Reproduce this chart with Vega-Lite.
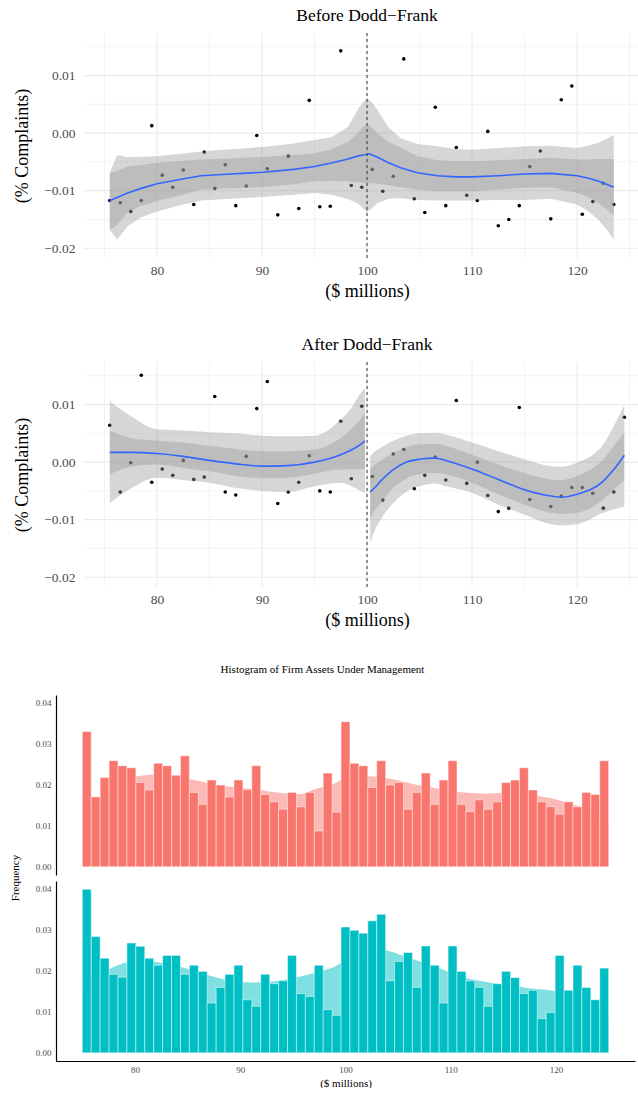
{
"$schema": "https://vega.github.io/schema/vega-lite/v6.json",
"padding": {"left": 9, "top": 6, "right": 0, "bottom": 0},
"background": "white",
"spacing": 34,
"config": {"view": {"stroke": null}, "font": "Liberation Serif",
  "title": {"fontWeight": "normal", "color": "black", "font": "Liberation Serif"},
  "axis": {"labelFont": "Liberation Serif", "titleFont": "Liberation Serif", "titleFontWeight": "normal", "titleColor": "black", "labelColor": "#4D4D4D"},
  "header": {"titleFont": "Liberation Serif", "labelFont": "Liberation Serif"}},
"datasets": {
  "vminor": [{"v":75},{"v":85},{"v":95},{"v":105},{"v":115},{"v":125}],
  "vmajor": [{"v":80},{"v":90},{"v":100},{"v":110},{"v":120}],
  "hminor": [{"g":-0.015},{"g":-0.005},{"g":0.005},{"g":0.015}],
  "hmajor": [{"g":-0.02},{"g":-0.01},{"g":0},{"g":0.01}],
  "before_pts": [
    {"x":75.5,"y":-0.0117},{"x":76.5,"y":-0.0121},{"x":77.5,"y":-0.0136},{"x":78.5,"y":-0.0117},{"x":79.5,"y":0.0013},
    {"x":80.5,"y":-0.0073},{"x":81.5,"y":-0.0094},{"x":82.5,"y":-0.0064},{"x":83.5,"y":-0.0124},{"x":84.5,"y":-0.0033},
    {"x":85.5,"y":-0.0096},{"x":86.5,"y":-0.0055},{"x":87.5,"y":-0.0126},{"x":88.5,"y":-0.0092},{"x":89.5,"y":-0.0004},
    {"x":90.5,"y":-0.0062},{"x":91.5,"y":-0.0142},{"x":92.5,"y":-0.004},{"x":93.5,"y":-0.0131},{"x":94.5,"y":0.0057},
    {"x":95.5,"y":-0.0128},{"x":96.5,"y":-0.0127},{"x":97.5,"y":0.0143},{"x":98.5,"y":-0.0091},{"x":99.5,"y":-0.0094},
    {"x":100.5,"y":-0.0063},{"x":101.5,"y":-0.0101},{"x":102.5,"y":-0.0075},{"x":103.5,"y":0.0129},{"x":104.5,"y":-0.0114},
    {"x":105.5,"y":-0.0138},{"x":106.5,"y":0.0045},{"x":107.5,"y":-0.0126},{"x":108.5,"y":-0.0025},{"x":109.5,"y":-0.0108},
    {"x":110.5,"y":-0.0117},{"x":111.5,"y":0.0003},{"x":112.5,"y":-0.0161},{"x":113.5,"y":-0.015},{"x":114.5,"y":-0.0126},
    {"x":115.5,"y":-0.0058},{"x":116.5,"y":-0.0031},{"x":117.5,"y":-0.0149},{"x":118.5,"y":0.0058},{"x":119.5,"y":0.0082},
    {"x":120.5,"y":-0.0141},{"x":121.5,"y":-0.0119},{"x":122.5,"y":-0.0087},{"x":123.5,"y":-0.0124}],
  "before_fit": [
    {"x":75.5,"fit":-0.0117,"in_lo":-0.0168,"in_hi":-0.0069,"out_lo":-0.0168,"out_hi":-0.0069},
    {"x":76.2,"fit":-0.0112,"in_lo":-0.016,"in_hi":-0.0066,"out_lo":-0.0185,"out_hi":-0.0038},
    {"x":77.2,"fit":-0.0104,"in_lo":-0.0138,"in_hi":-0.0058,"out_lo":-0.0162,"out_hi":-0.0042},
    {"x":78.5,"fit":-0.0096,"in_lo":-0.0126,"in_hi":-0.0055,"out_lo":-0.0146,"out_hi":-0.0041},
    {"x":80,"fit":-0.0088,"in_lo":-0.0118,"in_hi":-0.0052,"out_lo":-0.0136,"out_hi":-0.004},
    {"x":82.3,"fit":-0.008,"in_lo":-0.0108,"in_hi":-0.0048,"out_lo":-0.0125,"out_hi":-0.0036},
    {"x":84.2,"fit":-0.0074,"in_lo":-0.0098,"in_hi":-0.0046,"out_lo":-0.0117,"out_hi":-0.0032},
    {"x":87,"fit":-0.0071,"in_lo":-0.0096,"in_hi":-0.0044,"out_lo":-0.0114,"out_hi":-0.0028},
    {"x":90.1,"fit":-0.0068,"in_lo":-0.0094,"in_hi":-0.0041,"out_lo":-0.0111,"out_hi":-0.0024},
    {"x":93,"fit":-0.0063,"in_lo":-0.0089,"in_hi":-0.0038,"out_lo":-0.0107,"out_hi":-0.0018},
    {"x":95,"fit":-0.0058,"in_lo":-0.0084,"in_hi":-0.0035,"out_lo":-0.0104,"out_hi":-0.0012},
    {"x":96.6,"fit":-0.0052,"in_lo":-0.0083,"in_hi":-0.0028,"out_lo":-0.0107,"out_hi":-0.0007},
    {"x":98.2,"fit":-0.0045,"in_lo":-0.0084,"in_hi":-0.0015,"out_lo":-0.0115,"out_hi":0.0011},
    {"x":99.1,"fit":-0.004,"in_lo":-0.0085,"in_hi":0.0,"out_lo":-0.0122,"out_hi":0.004},
    {"x":99.6,"fit":-0.0038,"in_lo":-0.0086,"in_hi":0.001,"out_lo":-0.013,"out_hi":0.0053},
    {"x":100,"fit":-0.0037,"in_lo":-0.0087,"in_hi":0.0016,"out_lo":-0.0138,"out_hi":0.0061},
    {"x":100.2,"fit":-0.0036,"in_lo":-0.0087,"in_hi":0.0013,"out_lo":-0.0134,"out_hi":0.0058},
    {"x":100.5,"fit":-0.0038,"in_lo":-0.0087,"in_hi":0.0009,"out_lo":-0.013,"out_hi":0.0053},
    {"x":101,"fit":-0.0042,"in_lo":-0.0088,"in_hi":0.0,"out_lo":-0.0122,"out_hi":0.004},
    {"x":102,"fit":-0.0051,"in_lo":-0.009,"in_hi":-0.0015,"out_lo":-0.0114,"out_hi":0.0011},
    {"x":103.2,"fit":-0.006,"in_lo":-0.0094,"in_hi":-0.0025,"out_lo":-0.0113,"out_hi":-0.0009},
    {"x":104.8,"fit":-0.0069,"in_lo":-0.0098,"in_hi":-0.004,"out_lo":-0.0116,"out_hi":-0.0019},
    {"x":106.7,"fit":-0.0074,"in_lo":-0.0101,"in_hi":-0.0047,"out_lo":-0.0117,"out_hi":-0.0023},
    {"x":108.5,"fit":-0.0076,"in_lo":-0.0101,"in_hi":-0.0049,"out_lo":-0.0117,"out_hi":-0.0028},
    {"x":110,"fit":-0.0076,"in_lo":-0.0101,"in_hi":-0.0049,"out_lo":-0.0117,"out_hi":-0.0029},
    {"x":112.5,"fit":-0.0074,"in_lo":-0.0098,"in_hi":-0.0047,"out_lo":-0.0116,"out_hi":-0.0026},
    {"x":115,"fit":-0.0071,"in_lo":-0.0095,"in_hi":-0.0045,"out_lo":-0.0116,"out_hi":-0.0023},
    {"x":117.5,"fit":-0.007,"in_lo":-0.0094,"in_hi":-0.0043,"out_lo":-0.0114,"out_hi":-0.0022},
    {"x":120,"fit":-0.0074,"in_lo":-0.0104,"in_hi":-0.0046,"out_lo":-0.0124,"out_hi":-0.0026},
    {"x":121,"fit":-0.0078,"in_lo":-0.0111,"in_hi":-0.0046,"out_lo":-0.0135,"out_hi":-0.0022},
    {"x":122,"fit":-0.0083,"in_lo":-0.0121,"in_hi":-0.0045,"out_lo":-0.015,"out_hi":-0.0017},
    {"x":122.8,"fit":-0.0089,"in_lo":-0.0132,"in_hi":-0.0045,"out_lo":-0.0167,"out_hi":-0.001},
    {"x":123.5,"fit":-0.0094,"in_lo":-0.0143,"in_hi":-0.0045,"out_lo":-0.0185,"out_hi":-0.0003}],
  "after_pts": [
    {"x":75.5,"y":0.0064},{"x":76.5,"y":-0.0052},{"x":77.5,"y":-0.0001},{"x":78.5,"y":0.0151},{"x":79.5,"y":-0.0035},
    {"x":80.5,"y":-0.0012},{"x":81.5,"y":-0.0023},{"x":82.5,"y":0.0003},{"x":83.5,"y":-0.003},{"x":84.5,"y":-0.0026},
    {"x":85.5,"y":0.0114},{"x":86.5,"y":-0.0052},{"x":87.5,"y":-0.0057},{"x":88.5,"y":0.001},{"x":89.5,"y":0.0093},
    {"x":90.5,"y":0.014},{"x":91.5,"y":-0.0072},{"x":92.5,"y":-0.0052},{"x":93.5,"y":-0.0035},{"x":94.5,"y":0.0011},
    {"x":95.5,"y":-0.005},{"x":96.5,"y":-0.0052},{"x":97.5,"y":0.0071},{"x":98.5,"y":-0.0029},{"x":99.5,"y":0.0097},
    {"x":100.5,"y":-0.0025},{"x":101.5,"y":-0.0066},{"x":102.5,"y":0.0014},{"x":103.5,"y":0.0022},{"x":104.5,"y":-0.0046},
    {"x":105.5,"y":-0.0023},{"x":106.5,"y":0.0009},{"x":107.5,"y":-0.0031},{"x":108.5,"y":0.0107},{"x":109.5,"y":-0.0037},
    {"x":110.5,"y":0.0},{"x":111.5,"y":-0.0058},{"x":112.5,"y":-0.0086},{"x":113.5,"y":-0.008},{"x":114.5,"y":0.0095},
    {"x":115.5,"y":-0.0065},{"x":117.5,"y":-0.0077},{"x":118.5,"y":-0.0059},{"x":119.5,"y":-0.0044},{"x":120.5,"y":-0.0044},
    {"x":121.5,"y":-0.0054},{"x":122.5,"y":-0.008},{"x":123.5,"y":-0.0052},{"x":124.5,"y":0.0078}],
  "after_fit": [
    {"seg":"pre","x":75.5,"fit":0.0017,"in_lo":-0.0021,"in_hi":0.0054,"out_lo":-0.0071,"out_hi":0.0106},
    {"seg":"pre","x":77.5,"fit":0.0017,"in_lo":-0.0008,"in_hi":0.0042,"out_lo":-0.0046,"out_hi":0.008},
    {"seg":"pre","x":80,"fit":0.0015,"in_lo":-0.0004,"in_hi":0.0037,"out_lo":-0.0027,"out_hi":0.0057},
    {"seg":"pre","x":82.5,"fit":0.001,"in_lo":-0.001,"in_hi":0.0034,"out_lo":-0.0031,"out_hi":0.0055},
    {"seg":"pre","x":85,"fit":0.0003,"in_lo":-0.0016,"in_hi":0.0028,"out_lo":-0.0036,"out_hi":0.0052},
    {"seg":"pre","x":87.5,"fit":-0.0003,"in_lo":-0.0024,"in_hi":0.0023,"out_lo":-0.0045,"out_hi":0.005},
    {"seg":"pre","x":90,"fit":-0.0007,"in_lo":-0.0028,"in_hi":0.0019,"out_lo":-0.005,"out_hi":0.0046},
    {"seg":"pre","x":92.5,"fit":-0.0006,"in_lo":-0.0027,"in_hi":0.0019,"out_lo":-0.0052,"out_hi":0.0045},
    {"seg":"pre","x":95,"fit":0.0,"in_lo":-0.002,"in_hi":0.0022,"out_lo":-0.0042,"out_hi":0.0046},
    {"seg":"pre","x":97.5,"fit":0.0013,"in_lo":-0.0013,"in_hi":0.0042,"out_lo":-0.0036,"out_hi":0.0074},
    {"seg":"pre","x":98.5,"fit":0.0021,"in_lo":-0.0013,"in_hi":0.0057,"out_lo":-0.0042,"out_hi":0.0094},
    {"seg":"pre","x":99.4,"fit":0.0031,"in_lo":-0.0012,"in_hi":0.0076,"out_lo":-0.005,"out_hi":0.012},
    {"seg":"pre","x":99.8,"fit":0.0037,"in_lo":-0.0013,"in_hi":0.0086,"out_lo":-0.0053,"out_hi":0.0129},
    {"seg":"post","x":100.3,"fit":-0.0052,"in_lo":-0.0097,"in_hi":-0.0012,"out_lo":-0.014,"out_hi":0.001},
    {"seg":"post","x":100.7,"fit":-0.0045,"in_lo":-0.0085,"in_hi":-0.0005,"out_lo":-0.012,"out_hi":0.0018},
    {"seg":"post","x":101.3,"fit":-0.0033,"in_lo":-0.0071,"in_hi":0.0003,"out_lo":-0.01,"out_hi":0.0025},
    {"seg":"post","x":102.5,"fit":-0.0013,"in_lo":-0.0045,"in_hi":0.0016,"out_lo":-0.0071,"out_hi":0.0037},
    {"seg":"post","x":103.6,"fit":-0.0001,"in_lo":-0.003,"in_hi":0.0025,"out_lo":-0.0053,"out_hi":0.0045},
    {"seg":"post","x":105,"fit":0.0005,"in_lo":-0.0021,"in_hi":0.0031,"out_lo":-0.0042,"out_hi":0.005},
    {"seg":"post","x":106.5,"fit":0.0007,"in_lo":-0.0019,"in_hi":0.0032,"out_lo":-0.0037,"out_hi":0.0051},
    {"seg":"post","x":107.5,"fit":0.0003,"in_lo":-0.0021,"in_hi":0.0028,"out_lo":-0.0042,"out_hi":0.0048},
    {"seg":"post","x":110,"fit":-0.0012,"in_lo":-0.0036,"in_hi":0.0013,"out_lo":-0.0053,"out_hi":0.0034},
    {"seg":"post","x":112.5,"fit":-0.003,"in_lo":-0.0056,"in_hi":-0.0004,"out_lo":-0.0074,"out_hi":0.0019},
    {"seg":"post","x":115,"fit":-0.0048,"in_lo":-0.0074,"in_hi":-0.0019,"out_lo":-0.0091,"out_hi":0.0005},
    {"seg":"post","x":117.5,"fit":-0.0059,"in_lo":-0.0088,"in_hi":-0.003,"out_lo":-0.0108,"out_hi":-0.0007},
    {"seg":"post","x":118.5,"fit":-0.0061,"in_lo":-0.009,"in_hi":-0.0031,"out_lo":-0.011,"out_hi":-0.0008},
    {"seg":"post","x":120,"fit":-0.0056,"in_lo":-0.0088,"in_hi":-0.0024,"out_lo":-0.0108,"out_hi":-0.0001},
    {"seg":"post","x":122.5,"fit":-0.0033,"in_lo":-0.0065,"in_hi":0.0005,"out_lo":-0.0088,"out_hi":0.0031},
    {"seg":"post","x":123.5,"fit":-0.0013,"in_lo":-0.0048,"in_hi":0.0028,"out_lo":-0.0082,"out_hi":0.0063},
    {"seg":"post","x":124.5,"fit":0.0012,"in_lo":-0.003,"in_hi":0.0051,"out_lo":-0.0077,"out_hi":0.0099}],
  "hist": [
    {"p":"Before","lo":75,"hi":75.847,"f":0.0329},{"p":"Before","lo":75.847,"hi":76.695,"f":0.017},{"p":"Before","lo":76.695,"hi":77.542,"f":0.0217},{"p":"Before","lo":77.542,"hi":78.39,"f":0.0258},{"p":"Before","lo":78.39,"hi":79.237,"f":0.0246},
    {"p":"Before","lo":79.237,"hi":80.085,"f":0.0241},{"p":"Before","lo":80.085,"hi":80.932,"f":0.0205},{"p":"Before","lo":80.932,"hi":81.78,"f":0.0187},{"p":"Before","lo":81.78,"hi":82.627,"f":0.0252},{"p":"Before","lo":82.627,"hi":83.475,"f":0.0246},
    {"p":"Before","lo":83.475,"hi":84.322,"f":0.0223},{"p":"Before","lo":84.322,"hi":85.169,"f":0.027},{"p":"Before","lo":85.169,"hi":86.017,"f":0.0181},{"p":"Before","lo":86.017,"hi":86.864,"f":0.0152},{"p":"Before","lo":86.864,"hi":87.712,"f":0.0211},
    {"p":"Before","lo":87.712,"hi":88.559,"f":0.0199},{"p":"Before","lo":88.559,"hi":89.407,"f":0.017},{"p":"Before","lo":89.407,"hi":90.254,"f":0.0211},{"p":"Before","lo":90.254,"hi":91.102,"f":0.0188},{"p":"Before","lo":91.102,"hi":91.949,"f":0.0246},
    {"p":"Before","lo":91.949,"hi":92.797,"f":0.0176},{"p":"Before","lo":92.797,"hi":93.644,"f":0.0158},{"p":"Before","lo":93.644,"hi":94.492,"f":0.014},{"p":"Before","lo":94.492,"hi":95.339,"f":0.0181},{"p":"Before","lo":95.339,"hi":96.186,"f":0.0146},
    {"p":"Before","lo":96.186,"hi":97.034,"f":0.0181},{"p":"Before","lo":97.034,"hi":97.881,"f":0.0087},{"p":"Before","lo":97.881,"hi":98.729,"f":0.0228},{"p":"Before","lo":98.729,"hi":99.576,"f":0.0133},{"p":"Before","lo":99.576,"hi":100.424,"f":0.0353},
    {"p":"Before","lo":100.424,"hi":101.271,"f":0.0252},{"p":"Before","lo":101.271,"hi":102.119,"f":0.0246},{"p":"Before","lo":102.119,"hi":102.966,"f":0.0193},{"p":"Before","lo":102.966,"hi":103.814,"f":0.0258},{"p":"Before","lo":103.814,"hi":104.661,"f":0.0199},
    {"p":"Before","lo":104.661,"hi":105.508,"f":0.0205},{"p":"Before","lo":105.508,"hi":106.356,"f":0.014},{"p":"Before","lo":106.356,"hi":107.203,"f":0.0181},{"p":"Before","lo":107.203,"hi":108.051,"f":0.0228},{"p":"Before","lo":108.051,"hi":108.898,"f":0.0152},
    {"p":"Before","lo":108.898,"hi":109.746,"f":0.0211},{"p":"Before","lo":109.746,"hi":110.593,"f":0.0258},{"p":"Before","lo":110.593,"hi":111.441,"f":0.0152},{"p":"Before","lo":111.441,"hi":112.288,"f":0.0134},{"p":"Before","lo":112.288,"hi":113.136,"f":0.0163},
    {"p":"Before","lo":113.136,"hi":113.983,"f":0.014},{"p":"Before","lo":113.983,"hi":114.831,"f":0.0158},{"p":"Before","lo":114.831,"hi":115.678,"f":0.0205},{"p":"Before","lo":115.678,"hi":116.525,"f":0.0211},{"p":"Before","lo":116.525,"hi":117.373,"f":0.0241},
    {"p":"Before","lo":117.373,"hi":118.22,"f":0.0187},{"p":"Before","lo":118.22,"hi":119.068,"f":0.0158},{"p":"Before","lo":119.068,"hi":119.915,"f":0.0146},{"p":"Before","lo":119.915,"hi":120.763,"f":0.0128},{"p":"Before","lo":120.763,"hi":121.61,"f":0.0158},
    {"p":"Before","lo":121.61,"hi":122.458,"f":0.0146},{"p":"Before","lo":122.458,"hi":123.305,"f":0.0181},{"p":"Before","lo":123.305,"hi":124.153,"f":0.0176},{"p":"Before","lo":124.153,"hi":125,"f":0.0258},
    {"p":"After","lo":75,"hi":75.847,"f":0.0398},{"p":"After","lo":75.847,"hi":76.695,"f":0.0283},{"p":"After","lo":76.695,"hi":77.542,"f":0.023},{"p":"After","lo":77.542,"hi":78.39,"f":0.0191},{"p":"After","lo":78.39,"hi":79.237,"f":0.0184},
    {"p":"After","lo":79.237,"hi":80.085,"f":0.0267},{"p":"After","lo":80.085,"hi":80.932,"f":0.0259},{"p":"After","lo":80.932,"hi":81.78,"f":0.023},{"p":"After","lo":81.78,"hi":82.627,"f":0.0213},{"p":"After","lo":82.627,"hi":83.475,"f":0.0237},
    {"p":"After","lo":83.475,"hi":84.322,"f":0.0237},{"p":"After","lo":84.322,"hi":85.169,"f":0.0191},{"p":"After","lo":85.169,"hi":86.017,"f":0.0213},{"p":"After","lo":86.017,"hi":86.864,"f":0.0198},{"p":"After","lo":86.864,"hi":87.712,"f":0.0121},
    {"p":"After","lo":87.712,"hi":88.559,"f":0.0159},{"p":"After","lo":88.559,"hi":89.407,"f":0.0191},{"p":"After","lo":89.407,"hi":90.254,"f":0.0213},{"p":"After","lo":90.254,"hi":91.102,"f":0.0129},{"p":"After","lo":91.102,"hi":91.949,"f":0.0113},
    {"p":"After","lo":91.949,"hi":92.797,"f":0.0191},{"p":"After","lo":92.797,"hi":93.644,"f":0.0168},{"p":"After","lo":93.644,"hi":94.492,"f":0.0175},{"p":"After","lo":94.492,"hi":95.339,"f":0.0237},{"p":"After","lo":95.339,"hi":96.186,"f":0.0144},
    {"p":"After","lo":96.186,"hi":97.034,"f":0.0137},{"p":"After","lo":97.034,"hi":97.881,"f":0.0213},{"p":"After","lo":97.881,"hi":98.729,"f":0.0105},{"p":"After","lo":98.729,"hi":99.576,"f":0.0091},{"p":"After","lo":99.576,"hi":100.424,"f":0.0306},
    {"p":"After","lo":100.424,"hi":101.271,"f":0.0298},{"p":"After","lo":101.271,"hi":102.119,"f":0.0291},{"p":"After","lo":102.119,"hi":102.966,"f":0.0321},{"p":"After","lo":102.966,"hi":103.814,"f":0.0337},{"p":"After","lo":103.814,"hi":104.661,"f":0.0175},
    {"p":"After","lo":104.661,"hi":105.508,"f":0.0222},{"p":"After","lo":105.508,"hi":106.356,"f":0.0244},{"p":"After","lo":106.356,"hi":107.203,"f":0.0159},{"p":"After","lo":107.203,"hi":108.051,"f":0.026},{"p":"After","lo":108.051,"hi":108.898,"f":0.0213},
    {"p":"After","lo":108.898,"hi":109.746,"f":0.0121},{"p":"After","lo":109.746,"hi":110.593,"f":0.026},{"p":"After","lo":110.593,"hi":111.441,"f":0.0198},{"p":"After","lo":111.441,"hi":112.288,"f":0.0175},{"p":"After","lo":112.288,"hi":113.136,"f":0.0159},
    {"p":"After","lo":113.136,"hi":113.983,"f":0.0113},{"p":"After","lo":113.983,"hi":114.831,"f":0.0168},{"p":"After","lo":114.831,"hi":115.678,"f":0.0198},{"p":"After","lo":115.678,"hi":116.525,"f":0.0183},{"p":"After","lo":116.525,"hi":117.373,"f":0.0144},
    {"p":"After","lo":117.373,"hi":118.22,"f":0.0152},{"p":"After","lo":118.22,"hi":119.068,"f":0.0083},{"p":"After","lo":119.068,"hi":119.915,"f":0.0098},{"p":"After","lo":119.915,"hi":120.763,"f":0.0237},{"p":"After","lo":120.763,"hi":121.61,"f":0.0152},
    {"p":"After","lo":121.61,"hi":122.458,"f":0.0213},{"p":"After","lo":122.458,"hi":123.305,"f":0.0159},{"p":"After","lo":123.305,"hi":124.153,"f":0.0129},{"p":"After","lo":124.153,"hi":125,"f":0.0206},
    {"p":"Before","x":75.0,"d":0.0124},{"p":"Before","x":75.8,"d":0.0148},{"p":"Before","x":77.6,"d":0.019},{"p":"Before","x":79.3,"d":0.0215},{"p":"Before","x":81.0,"d":0.0223},
    {"p":"Before","x":81.9,"d":0.0224},{"p":"Before","x":83.5,"d":0.0219},{"p":"Before","x":85.2,"d":0.0213},{"p":"Before","x":87.8,"d":0.0199},{"p":"Before","x":91.2,"d":0.0189},
    {"p":"Before","x":94.5,"d":0.0178},{"p":"Before","x":95.8,"d":0.0177},{"p":"Before","x":97.1,"d":0.0189},{"p":"Before","x":97.9,"d":0.0195},{"p":"Before","x":98.85,"d":0.0201},
    {"p":"Before","x":99.7,"d":0.0213},{"p":"Before","x":101.4,"d":0.0221},{"p":"Before","x":103.1,"d":0.0219},{"p":"Before","x":104.8,"d":0.0211},{"p":"Before","x":106.5,"d":0.0201},
    {"p":"Before","x":108.2,"d":0.0193},{"p":"Before","x":109.9,"d":0.0185},{"p":"Before","x":111.6,"d":0.018},{"p":"Before","x":113.2,"d":0.0178},{"p":"Before","x":115.0,"d":0.018},
    {"p":"Before","x":116.7,"d":0.0182},{"p":"Before","x":118.3,"d":0.0172},{"p":"Before","x":120.0,"d":0.0164},{"p":"Before","x":121.8,"d":0.015},{"p":"Before","x":123.4,"d":0.0136},
    {"p":"Before","x":124.3,"d":0.0115},{"p":"Before","x":125.0,"d":0.0093},
    {"p":"After","x":75.0,"d":0.0138},{"p":"After","x":75.8,"d":0.0179},{"p":"After","x":77.6,"d":0.0204},{"p":"After","x":79.3,"d":0.022},{"p":"After","x":81.0,"d":0.0224},
    {"p":"After","x":82.7,"d":0.0218},{"p":"After","x":84.4,"d":0.0209},{"p":"After","x":86.1,"d":0.0195},{"p":"After","x":87.8,"d":0.0183},{"p":"After","x":89.5,"d":0.0173},
    {"p":"After","x":91.2,"d":0.0171},{"p":"After","x":92.9,"d":0.0173},{"p":"After","x":94.5,"d":0.0179},{"p":"After","x":96.3,"d":0.0189},{"p":"After","x":97.9,"d":0.02},
    {"p":"After","x":98.85,"d":0.0208},{"p":"After","x":99.7,"d":0.022},{"p":"After","x":101.4,"d":0.0238},{"p":"After","x":103.1,"d":0.0251},{"p":"After","x":103.9,"d":0.0249},
    {"p":"After","x":105.6,"d":0.0235},{"p":"After","x":107.3,"d":0.022},{"p":"After","x":109.0,"d":0.0205},{"p":"After","x":110.7,"d":0.0187},{"p":"After","x":112.4,"d":0.0177},
    {"p":"After","x":114.1,"d":0.0169},{"p":"After","x":115.8,"d":0.0163},{"p":"After","x":117.5,"d":0.0157},{"p":"After","x":120.0,"d":0.015},{"p":"After","x":121.8,"d":0.0142},
    {"p":"After","x":123.4,"d":0.0126},{"p":"After","x":125.0,"d":0.0085}]
},
"vconcat": [
  {
    "width": 583, "height": 225,
    "title": {"text": "Before Dodd−Frank", "fontSize": 17.5, "dx": 19.5, "offset": 8, "anchor": "middle"},
    "layer": [
      {"data": {"name": "vminor"}, "mark": {"type": "rule", "color": "#EBEBEB", "strokeWidth": 0.6},
       "encoding": {"x": {"field": "v", "type": "quantitative", "scale": {"domain": [70.38, 125.9], "nice": false, "zero": false},
         "axis": {"values": [80, 90, 100, 110, 120], "grid": false, "domain": false, "ticks": false, "labelFont": "Liberation Serif", "labelFontSize": 13.5, "labelPadding": 5, "title": "($ millions)", "titleFont": "Liberation Serif", "titleFontSize": 18, "titlePadding": 6, "titleX": 311}}}},
      {"data": {"name": "vmajor"}, "mark": {"type": "rule", "color": "#EBEBEB", "strokeWidth": 1.1},
       "encoding": {"x": {"field": "v", "type": "quantitative"}}},
      {"data": {"name": "hminor"}, "mark": {"type": "rule", "color": "#EBEBEB", "strokeWidth": 0.6},
       "encoding": {"y": {"field": "g", "type": "quantitative", "scale": {"domain": [-0.0217, 0.0174], "nice": false, "zero": false},
         "axis": {"values": [-0.02, -0.01, 0, 0.01], "format": ".2f", "grid": false, "domain": false, "ticks": false, "offset": -28, "labelFont": "Liberation Serif", "labelFontSize": 13.5, "labelPadding": 9, "title": "(% Complaints)", "titleFont": "Liberation Serif", "titleFontSize": 18, "titleX": -62, "titleBaseline": "middle"}},
         "x": {"datum": 73.05, "type": "quantitative"}, "x2": {"datum": 125.9}}},
      {"data": {"name": "hmajor"}, "mark": {"type": "rule", "color": "#EBEBEB", "strokeWidth": 1.1},
       "encoding": {"y": {"field": "g", "type": "quantitative"}, "x": {"datum": 73.05, "type": "quantitative"}, "x2": {"datum": 125.9}}},
      {"data": {"name": "before_pts"}, "mark": {"type": "circle", "size": 13, "color": "black", "opacity": 1},
       "encoding": {"x": {"field": "x", "type": "quantitative"}, "y": {"field": "y", "type": "quantitative"}}},
      {"data": {"name": "before_fit"}, "mark": {"type": "area", "color": "#999999", "opacity": 0.4},
       "encoding": {"x": {"field": "x", "type": "quantitative"}, "y": {"field": "out_lo", "type": "quantitative"}, "y2": {"field": "out_hi"}}},
      {"data": {"name": "before_fit"}, "mark": {"type": "area", "color": "#999999", "opacity": 0.4},
       "encoding": {"x": {"field": "x", "type": "quantitative"}, "y": {"field": "in_lo", "type": "quantitative"}, "y2": {"field": "in_hi"}}},
      {"data": {"name": "before_fit"}, "mark": {"type": "line", "color": "#3366FF", "strokeWidth": 1.6},
       "encoding": {"x": {"field": "x", "type": "quantitative"}, "y": {"field": "fit", "type": "quantitative"}}},
      {"data": {"values": [{}]}, "mark": {"type": "rule", "strokeDash": [3, 3], "color": "#333333", "strokeWidth": 1},
       "encoding": {"x": {"datum": 100, "type": "quantitative"}}}
    ]
  },
  {
    "width": 583, "height": 225,
    "title": {"text": "After Dodd−Frank", "fontSize": 17.5, "dx": 19.5, "offset": 8, "anchor": "middle"},
    "layer": [
      {"data": {"name": "vminor"}, "mark": {"type": "rule", "color": "#EBEBEB", "strokeWidth": 0.6},
       "encoding": {"x": {"field": "v", "type": "quantitative", "scale": {"domain": [70.38, 125.9], "nice": false, "zero": false},
         "axis": {"values": [80, 90, 100, 110, 120], "grid": false, "domain": false, "ticks": false, "labelFont": "Liberation Serif", "labelFontSize": 13.5, "labelPadding": 5, "title": "($ millions)", "titleFont": "Liberation Serif", "titleFontSize": 18, "titlePadding": 6, "titleX": 311}}}},
      {"data": {"name": "vmajor"}, "mark": {"type": "rule", "color": "#EBEBEB", "strokeWidth": 1.1},
       "encoding": {"x": {"field": "v", "type": "quantitative"}}},
      {"data": {"name": "hminor"}, "mark": {"type": "rule", "color": "#EBEBEB", "strokeWidth": 0.6},
       "encoding": {"y": {"field": "g", "type": "quantitative", "scale": {"domain": [-0.0217, 0.0174], "nice": false, "zero": false},
         "axis": {"values": [-0.02, -0.01, 0, 0.01], "format": ".2f", "grid": false, "domain": false, "ticks": false, "offset": -28, "labelFont": "Liberation Serif", "labelFontSize": 13.5, "labelPadding": 9, "title": "(% Complaints)", "titleFont": "Liberation Serif", "titleFontSize": 18, "titleX": -62, "titleBaseline": "middle"}},
         "x": {"datum": 73.05, "type": "quantitative"}, "x2": {"datum": 125.9}}},
      {"data": {"name": "hmajor"}, "mark": {"type": "rule", "color": "#EBEBEB", "strokeWidth": 1.1},
       "encoding": {"y": {"field": "g", "type": "quantitative"}, "x": {"datum": 73.05, "type": "quantitative"}, "x2": {"datum": 125.9}}},
      {"data": {"name": "after_pts"}, "mark": {"type": "circle", "size": 13, "color": "black", "opacity": 1},
       "encoding": {"x": {"field": "x", "type": "quantitative"}, "y": {"field": "y", "type": "quantitative"}}},
      {"data": {"name": "after_fit"}, "mark": {"type": "area", "color": "#999999", "opacity": 0.4, "interpolate": "monotone"},
       "encoding": {"x": {"field": "x", "type": "quantitative"}, "y": {"field": "out_lo", "type": "quantitative"}, "y2": {"field": "out_hi"}, "detail": {"field": "seg"}}},
      {"data": {"name": "after_fit"}, "mark": {"type": "area", "color": "#999999", "opacity": 0.4, "interpolate": "monotone"},
       "encoding": {"x": {"field": "x", "type": "quantitative"}, "y": {"field": "in_lo", "type": "quantitative"}, "y2": {"field": "in_hi"}, "detail": {"field": "seg"}}},
      {"data": {"name": "after_fit"}, "mark": {"type": "line", "color": "#3366FF", "strokeWidth": 1.6, "interpolate": "monotone"},
       "encoding": {"x": {"field": "x", "type": "quantitative"}, "y": {"field": "fit", "type": "quantitative"}, "detail": {"field": "seg"}}},
      {"data": {"values": [{}]}, "mark": {"type": "rule", "strokeDash": [3, 3], "color": "#333333", "strokeWidth": 1},
       "encoding": {"x": {"datum": 100, "type": "quantitative"}}}
    ]
  },
  {
    "title": {"text": "Histogram of Firm Assets Under Management", "fontSize": 11, "offset": 20, "anchor": "middle"},
    "data": {"name": "hist"},
    "spacing": {"row": 6},
    "facet": {"row": {"field": "p", "type": "nominal", "sort": ["Before", "After"],
      "header": {"labels": false, "title": "Frequency", "titleFont": "Liberation Serif", "titleFontSize": 11, "titleFontWeight": "normal", "titleColor": "black", "titlePadding": 4}}},
    "spec": {
      "width": 579, "height": 180,
      "layer": [
        {"transform": [{"filter": "isValid(datum.d)"}],
         "mark": {"type": "area", "opacity": 0.5, "interpolate": "monotone"},
         "encoding": {
           "x": {"field": "x", "type": "quantitative", "scale": {"domain": [72.5, 127.5], "nice": false, "zero": false},
             "axis": {"values": [80, 90, 100, 110, 120], "grid": false, "ticks": false, "domain": true, "domainColor": "black", "domainWidth": 1.2, "labelFont": "Liberation Serif", "labelFontSize": 9, "labelPadding": 4, "title": "($ millions)", "titleFont": "Liberation Serif", "titleFontSize": 11, "titlePadding": 3}},
           "y": {"field": "d", "type": "quantitative", "scale": {"domain": [-0.002, 0.0418], "nice": false, "zero": false},
             "axis": {"values": [0, 0.01, 0.02, 0.03, 0.04], "format": ".2f", "grid": false, "ticks": false, "domain": true, "domainColor": "black", "domainWidth": 1.2, "labelFont": "Liberation Serif", "labelFontSize": 9, "labelPadding": 5, "title": null}},
           "y2": {"datum": 0},
           "fill": {"field": "p", "type": "nominal", "scale": {"domain": ["Before", "After"], "range": ["#F8766D", "#00BFC4"]}, "legend": null}}},
        {"transform": [{"filter": "isValid(datum.f)"}],
         "mark": {"type": "bar", "stroke": "white", "strokeOpacity": 0.6, "strokeWidth": 0.8},
         "encoding": {
           "x": {"field": "lo", "type": "quantitative"}, "x2": {"field": "hi"},
           "y": {"field": "f", "type": "quantitative"}, "y2": {"datum": 0},
           "fill": {"field": "p", "type": "nominal", "legend": null}}}
      ]
    }
  }
]
}
